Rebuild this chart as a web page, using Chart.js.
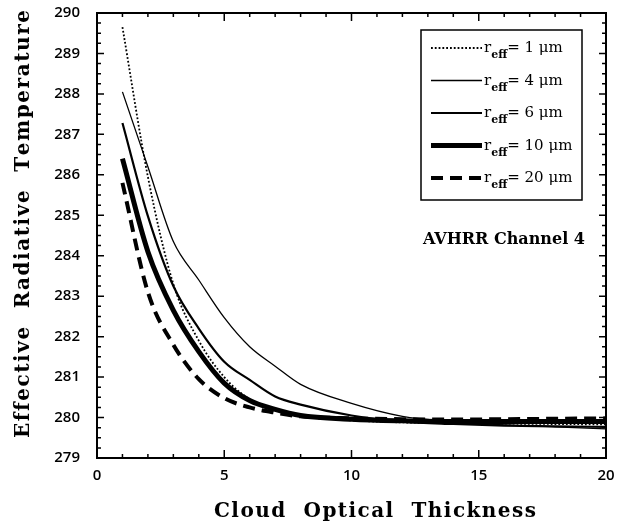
<!DOCTYPE html>
<html>
<head>
<meta charset="utf-8">
<script src="https://cdn.jsdelivr.net/npm/chart.js@4.4.1/dist/chart.umd.min.js"></script>
<style>
  html, body { margin:0; padding:0; background:#fff; }
  #wrap { width:617px; height:528px; }
</style>
</head>
<body>
<div id="wrap"><canvas id="tbChart" width="617" height="528"></canvas></div>
<script>
// cloud optical thickness (x) and effective radiative temperature per droplet radius
const tau  = [1, 2, 3, 4, 5, 6, 7, 8, 10, 12, 14, 16, 18, 20];
const rEff1  = [289.65, 285.95, 283.30, 281.90, 281.00, 280.45, 280.20, 280.05, 279.93, 279.88, 279.86, 279.85, 279.84, 279.83];
const rEff4  = [288.05, 286.20, 284.35, 283.40, 282.47, 281.75, 281.27, 280.82, 280.35, 280.03, 279.90, 279.82, 279.77, 279.72];
const rEff6  = [287.28, 284.98, 283.25, 282.20, 281.38, 280.93, 280.52, 280.32, 280.05, 279.90, 279.84, 279.80, 279.78, 279.77];
const rEff10 = [286.40, 284.10, 282.65, 281.63, 280.85, 280.42, 280.20, 280.05, 279.96, 279.92, 279.90, 279.90, 279.90, 279.90];
const rEff20 = [285.80, 283.10, 281.80, 280.95, 280.48, 280.25, 280.12, 280.03, 279.98, 279.96, 279.95, 279.96, 279.97, 279.98];
const radii  = ['1', '4', '6', '10', '20'];

const xTitle = 'Cloud  Optical  Thickness';
const yTitle = 'Effective  Radiative  Temperature';
const boxLabel = 'AVHRR Channel 4';

const xTickMajor = [0, 5, 10, 15, 20];
const yTickMinorStep = 0.25;

const STYLES = [
  { borderWidth: 1.8, borderDash: [1.8, 2] },
  { borderWidth: 1.3, borderDash: [] },
  { borderWidth: 2.2, borderDash: [] },
  { borderWidth: 5,   borderDash: [] },
  { borderWidth: 4,   borderDash: [12, 7] },
];

const series = [rEff1, rEff4, rEff6, rEff10, rEff20];

const datasets = series.map((vals, i) => ({
  label: 'r_eff= ' + radii[i] + ' μm',
  data: tau.map((t, j) => ({ x: t, y: vals[j] })),
  borderColor: '#000',
  backgroundColor: '#000',
  borderWidth: STYLES[i].borderWidth,
  borderDash: STYLES[i].borderDash,
  pointRadius: 0,
  cubicInterpolationMode: 'monotone',
  fill: false,
}));

// spreads the letters of a title so it covers a given width, centred on cx
function spacedText(ctx, text, cx, cy, width) {
  const chars = [...text];
  const natural = chars.reduce((s, c) => s + ctx.measureText(c).width, 0);
  const gap = Math.max(0, (width - natural) / (chars.length - 1));
  let x = cx - width / 2;
  chars.forEach(c => { ctx.fillText(c, x, cy); x += ctx.measureText(c).width + gap; });
}

// frame with inward ticks on all four sides, legend box, channel label, axis titles
const framePlugin = {
  id: 'frameTicks',
  afterDraw(chart) {
    const { ctx, chartArea: a, scales: { x, y } } = chart;
    ctx.save();
    ctx.strokeStyle = '#000';
    ctx.lineWidth = 2;
    ctx.strokeRect(a.left, a.top, a.right - a.left, a.bottom - a.top);

    ctx.lineWidth = 1.5;
    ctx.beginPath();
    for (let v = 0; v <= 20; v++) {
      const px = x.getPixelForValue(v);
      const len = xTickMajor.includes(v) ? 8 : 4;
      ctx.moveTo(px, a.bottom); ctx.lineTo(px, a.bottom - len);
      ctx.moveTo(px, a.top);    ctx.lineTo(px, a.top + len);
    }
    for (let v = 279; v <= 290.001; v += yTickMinorStep) {
      const py = y.getPixelForValue(v);
      const len = Math.abs(v - Math.round(v)) < 1e-6 ? 7 : 4;
      ctx.moveTo(a.left, py);  ctx.lineTo(a.left + len, py);
      ctx.moveTo(a.right, py); ctx.lineTo(a.right - len, py);
    }
    ctx.stroke();

    // legend
    const bx = 421, by = 30, bw = 161, bh = 170;
    ctx.lineWidth = 1.5;
    ctx.strokeRect(bx, by, bw, bh);
    chart.data.datasets.forEach((ds, i) => {
      const cy = by + 18 + i * 32.5;
      ctx.beginPath();
      ctx.lineWidth = ds.borderWidth;
      ctx.setLineDash(ds.borderDash);
      ctx.moveTo(431, cy); ctx.lineTo(482, cy);
      ctx.stroke();
      ctx.setLineDash([]);

      ctx.fillStyle = '#000';
      ctx.textBaseline = 'alphabetic';
      ctx.textAlign = 'left';
      let tx = 484;
      ctx.font = '15px "DejaVu Serif"';
      ctx.fillText('r', tx, cy + 4);
      tx += ctx.measureText('r').width;
      ctx.font = 'bold 11px "DejaVu Serif"';
      ctx.fillText('eff', tx, cy + 10);
      tx += ctx.measureText('eff').width;
      ctx.font = '15px "DejaVu Serif"';
      ctx.fillText('= ' + radii[i] + ' μm', tx, cy + 4);
    });

    ctx.font = 'bold 16px "DejaVu Serif"';
    ctx.textAlign = 'left';
    ctx.fillText(boxLabel, 423, 244);

    // axis titles
    ctx.font = 'bold 20px "DejaVu Serif"';
    ctx.textBaseline = 'alphabetic';
    spacedText(ctx, xTitle, 375, 517, 322);
    ctx.translate(29, 224);
    ctx.rotate(-Math.PI / 2);
    spacedText(ctx, yTitle, 0, 0, 428);
    ctx.restore();
  }
};

new Chart(document.getElementById('tbChart'), {
  type: 'line',
  data: { datasets },
  options: {
    responsive: false,
    animation: false,
    layout: { padding: { top: 13, right: 11, bottom: 0, left: 0 } },
    plugins: { legend: { display: false }, tooltip: { enabled: false } },
    scales: {
      x: {
        type: 'linear', min: 0, max: 20,
        afterFit: s => { s.height = 70; s.paddingLeft = 0; s.paddingRight = 0; },
        grid: { display: false, drawTicks: false, tickLength: 0 },
        border: { display: false },
        ticks: { stepSize: 5, padding: 9, color: '#000', maxRotation: 0,
                 font: { family: '"Open Sans"', size: 15, weight: '600' } },
      },
      y: {
        type: 'linear', min: 279, max: 290,
        afterFit: s => { s.width = 97; s.paddingTop = 0; s.paddingBottom = 0; },
        grid: { display: false, drawTicks: false, tickLength: 0 },
        border: { display: false },
        ticks: { stepSize: 1, padding: 17, color: '#000',
                 font: { family: '"Open Sans"', size: 15, weight: '600' } },
      },
    },
  },
  plugins: [framePlugin],
});
</script>
</body>
</html>
